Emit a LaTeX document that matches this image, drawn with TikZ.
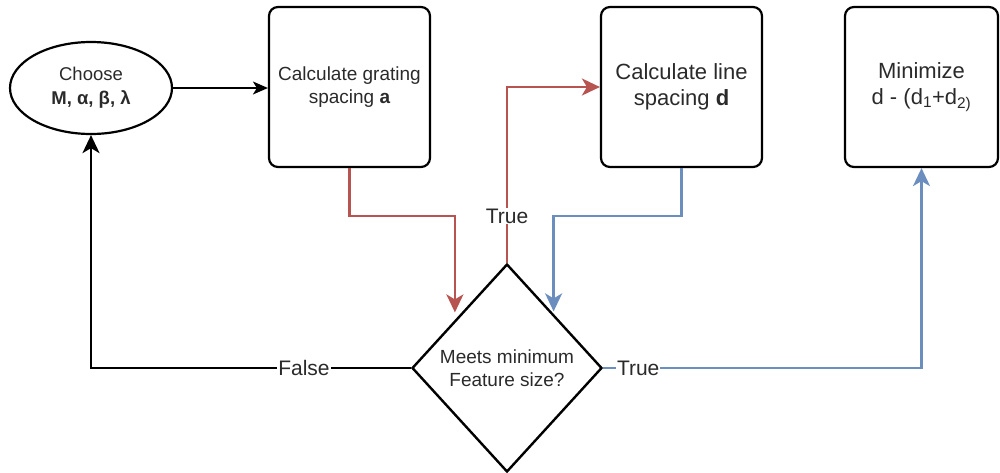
\documentclass[tikz,border=0pt]{standalone}
\usepackage{fontspec}
\setmainfont{Liberation Sans}
\usetikzlibrary{shapes.geometric,arrows.meta}
\definecolor{redc}{HTML}{B85450}
\definecolor{bluec}{HTML}{6C8EBF}
\definecolor{txt}{HTML}{2A2A2A}
\begin{document}
\begin{tikzpicture}[x=1pt,y=-1pt,
  box/.style={draw=black, line width=2.2pt, rounded corners=9pt, minimum height=160pt, inner sep=0pt, align=center, text=txt},
  conn/.style={line width=2.5pt, -{Stealth[length=18pt,width=17pt,inset=5pt]}},
  lbl/.style={fill=white, inner sep=1pt, text=txt, font=\fontsize{21}{24}\selectfont}]
\useasboundingbox (0,0) rectangle (1000,472);
\node[draw=black, line width=2.2pt, ellipse, minimum width=162pt, minimum height=92pt, inner sep=0pt, align=center, text=txt,
  font=\fontsize{18.5}{24}\selectfont] (ch) at (91,88) {Choose\\\textbf{M, α, β, λ}};
\node[box, minimum width=161pt, font=\fontsize{19}{23}\selectfont] (b1) at (349.5,87) {Calculate grating\\spacing \textbf{a}};
\node[box, minimum width=161pt, font=\fontsize{22}{26}\selectfont] (b2) at (681.5,87) {Calculate line\\spacing \textbf{d}};
\node[box, minimum width=153pt, font=\fontsize{22}{26}\selectfont] (b3) at (921.5,87) {Minimize\\d - (d\textsubscript{1}+d\textsubscript{2)}};
\node[draw=black, line width=2.4pt, diamond, minimum width=190pt, minimum height=208pt, inner sep=0pt, align=center, text=txt,
  font=\fontsize{19}{23}\selectfont] (d) at (507,368) {Meets minimum\\Feature size?};
\draw[line width=1.5pt, -{Stealth[length=15pt,width=13pt,inset=4pt]}] (ch.east) -- (ch.east -| b1.west);
\draw[conn, redc] (b1.south) -- ++(0,48) -| ([xshift=-4pt,yshift=3pt]d.north west);
\draw[conn, bluec] (b2.south) -- ++(0,48) -| ([xshift=-1.5pt,yshift=4pt]d.north east);
\draw[conn, redc] (d.north) |- (b2.west) node[lbl, pos=0.133] (lt1) {True};
\draw[conn, black] (d.west) -| (ch.south) node[lbl, pos=0.167] (lf) {False};
\draw[conn, bluec] (d.east) -| (b3.south) node[lbl, pos=0.055] (lt2) {True};
\end{tikzpicture}
\end{document}
